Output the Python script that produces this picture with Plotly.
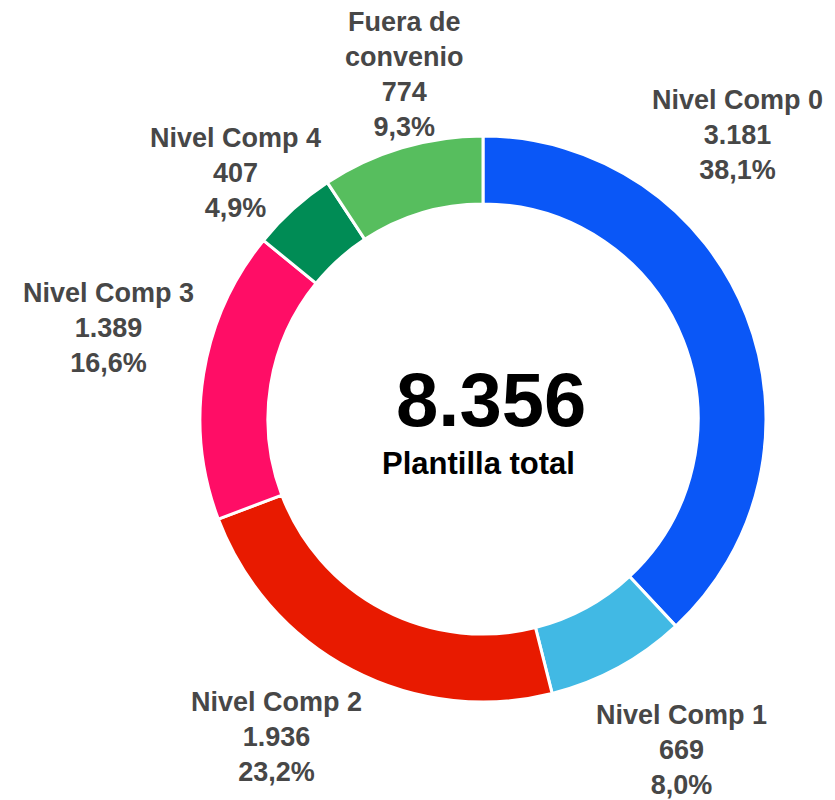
import plotly.graph_objects as go

categories = ["Nivel Comp 0", "Nivel Comp 1", "Nivel Comp 2", "Nivel Comp 3", "Nivel Comp 4", "Fuera de convenio"]
values = [3181, 669, 1936, 1389, 407, 774]
label_lines = ["Nivel Comp 0", "Nivel Comp 1", "Nivel Comp 2", "Nivel Comp 3", "Nivel Comp 4", "Fuera de<br>convenio"]
colors = ["#0a57f7", "#41b9e4", "#e81a00", "#ff0d66", "#008c55", "#57be5e"]
center_title = "Plantilla total"

# layout positions for outside labels (pixels in 835x800 canvas)
label_pos = [(729, 127), (673, 742), (268, 729), (100, 320), (227, 165), (396, 66)]

W, H = 835, 800
total = sum(values)

def fmt_int(v):
    return f"{v:,}".replace(",", ".")

def fmt_pct(v):
    return f"{v / total * 100:.1f}".replace(".", ",") + "%"

cx, cy, R = 475, 411, 283

fig = go.Figure(go.Pie(
    labels=categories,
    values=values,
    hole=0.76,
    sort=False,
    direction="clockwise",
    rotation=0,
    marker=dict(colors=colors, line=dict(color="white", width=3)),
    textinfo="none",
    hoverinfo="label+value+percent",
    showlegend=False,
    domain=dict(x=[(cx - R) / W, (cx + R) / W], y=[1 - (cy + R) / H, 1 - (cy - R) / H]),
))

annotations = []
for lbl, v, (px, py) in zip(label_lines, values, label_pos):
    annotations.append(dict(
        x=px / W, y=1 - py / H, xref="paper", yref="paper",
        text=f"<b>{lbl}<br>{fmt_int(v)}<br>{fmt_pct(v)}</b>",
        showarrow=False, xanchor="center", yanchor="middle", align="center",
        font=dict(family="Liberation Sans, Arial, sans-serif", size=27, color="#474747"),
    ))

annotations.append(dict(
    x=483 / W, y=1 - 391 / H, xref="paper", yref="paper",
    text=f"<b>{fmt_int(total)}</b>", showarrow=False,
    xanchor="center", yanchor="middle",
    font=dict(family="Liberation Sans, Arial, sans-serif", size=76, color="#000000"),
))
annotations.append(dict(
    x=470 / W, y=1 - 456 / H, xref="paper", yref="paper",
    text=f"<b>{center_title}</b>", showarrow=False,
    xanchor="center", yanchor="middle",
    font=dict(family="Liberation Sans, Arial, sans-serif", size=31, color="#000000"),
))

fig.update_layout(
    width=W, height=H,
    margin=dict(l=0, r=0, t=0, b=0),
    paper_bgcolor="white",
    plot_bgcolor="white",
    annotations=annotations,
)

fig.write_html("out.html")
